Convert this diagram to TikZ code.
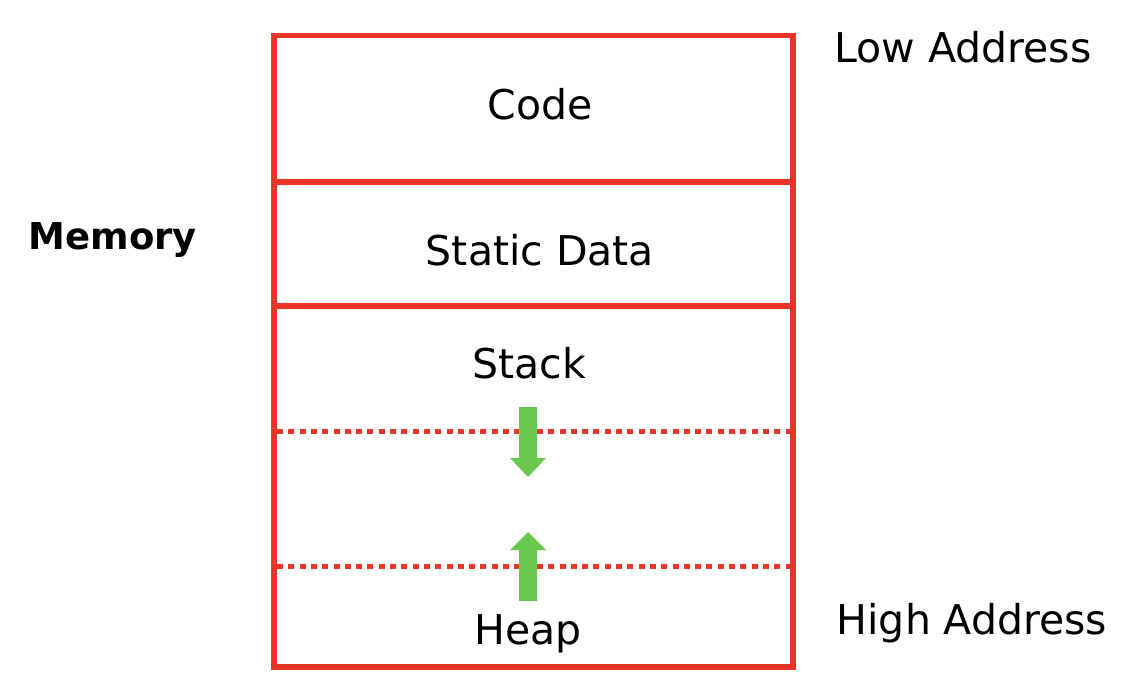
\documentclass[tikz,border=0pt]{standalone}
\usepackage{fontspec}
\setmainfont{DejaVu Sans}
\definecolor{memred}{RGB}{233,53,40}
\definecolor{arrgreen}{RGB}{106,200,76}
\begin{document}
\begin{tikzpicture}[x=1pt,y=-1pt,
  region/.style={draw=memred,line width=5.5pt,minimum width=519pt,inner sep=0pt,outer sep=0pt,anchor=north west},
  lbl/.style={font=\fontsize{41}{48}\selectfont,inner sep=0pt},
  sep/.style={draw=memred,line width=5pt,dash pattern=on 6pt off 5.3pt},
  greenarrow/.style={fill=arrgreen}]
\useasboundingbox (0,0) rectangle (1134,698);
\node[region,minimum height=146.5pt] (code) at (274,35.5) {};
\node[region,minimum height=124pt] (static) at (274,182) {};
\node[region,minimum height=361pt] (dyn) at (274,306) {};
\node[lbl] (tcode) at (540,104) {Code};
\node[lbl] (tstatic) at (540,250) {Static Data};
\node[lbl] (tstack) at (529,363) {Stack};
\node[lbl] (theap) at (528,634) {Heap};
\node[lbl,font=\fontsize{37}{44}\selectfont\bfseries] (tmem) at (113,240) {Memory};
\node[lbl] (tlow) at (963,47) {Low Address};
\node[lbl] (thigh) at (972,623) {High Address};
\coordinate (s1a) at (277,431); \coordinate (s1b) at (790,431);
\coordinate (s2a) at (277,566); \coordinate (s2b) at (790,566);
\draw[sep] (s1a) -- (s1b);
\draw[sep] (s2a) -- (s2b);
\fill[greenarrow] (519,407) -- (537,407) -- (537,458) -- (546,458) -- (528,477) -- (510,458) -- (519,458) -- cycle;
\fill[greenarrow] (519,601) -- (537,601) -- (537,550) -- (546,550) -- (528,532) -- (510,550) -- (519,550) -- cycle;
\end{tikzpicture}
\end{document}
